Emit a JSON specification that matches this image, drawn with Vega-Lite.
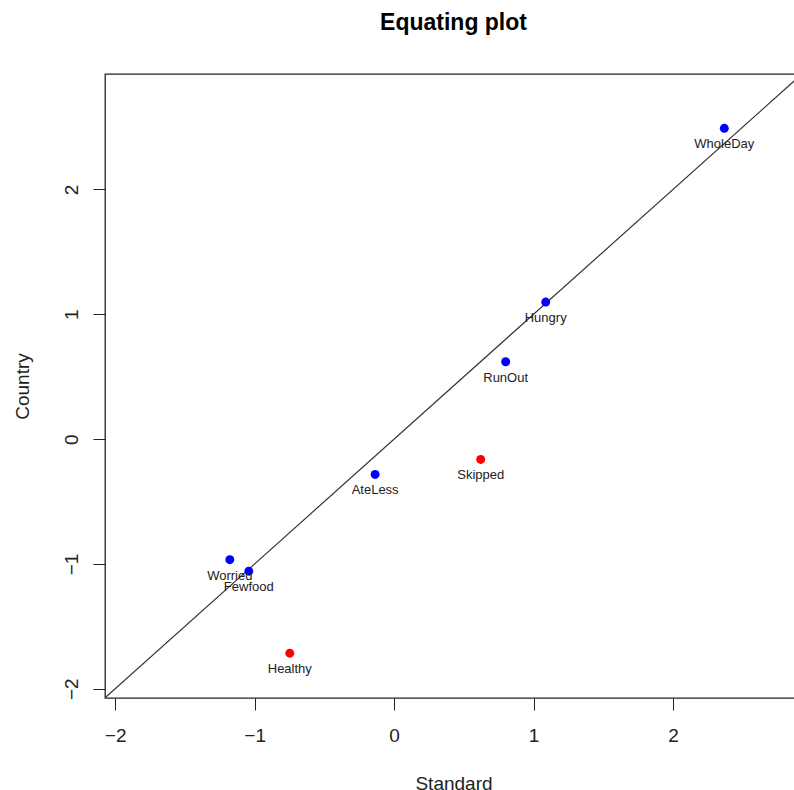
{
  "$schema": "https://vega.github.io/schema/vega-lite/v6.json",
  "autosize": {"type": "none"},
  "padding": {"left": 105, "top": 74, "right": 0, "bottom": 95},
  "width": 697,
  "height": 624,
  "background": "white",
  "config": {
    "view": {"stroke": "#222", "strokeWidth": 1.3},
    "font": "Liberation Sans"
  },
  "title": {
    "text": "Equating plot",
    "fontSize": 23,
    "fontWeight": "bold",
    "font": "Liberation Sans",
    "color": "black",
    "anchor": "middle",
    "baseline": "alphabetic",
    "offset": 21
  },
  "datasets": {
    "pts": [
      {"item": "WholeDay", "Standard": 2.368, "Country": 2.49, "group": "anchor"},
      {"item": "Hungry", "Standard": 1.087, "Country": 1.098, "group": "anchor"},
      {"item": "RunOut", "Standard": 0.8, "Country": 0.62, "group": "anchor"},
      {"item": "Skipped", "Standard": 0.621, "Country": -0.163, "group": "drift"},
      {"item": "AteLess", "Standard": -0.136, "Country": -0.283, "group": "anchor"},
      {"item": "Worried", "Standard": -1.178, "Country": -0.966, "group": "anchor"},
      {"item": "Fewfood", "Standard": -1.042, "Country": -1.058, "group": "anchor"},
      {"item": "Healthy", "Standard": -0.748, "Country": -1.715, "group": "drift"}
    ],
    "ident": [
      {"Standard": -3, "Country": -3},
      {"Standard": 4, "Country": 4}
    ]
  },
  "layer": [
    {
      "data": {"name": "ident"},
      "mark": {"type": "line", "clip": true, "color": "#333", "strokeWidth": 1.2},
      "encoding": {
        "x": {"field": "Standard", "type": "quantitative"},
        "y": {"field": "Country", "type": "quantitative"}
      }
    },
    {
      "data": {"name": "pts"},
      "mark": {"type": "point", "filled": true, "opacity": 1, "size": 80},
      "encoding": {
        "x": {"field": "Standard", "type": "quantitative"},
        "y": {"field": "Country", "type": "quantitative"},
        "color": {
          "field": "group",
          "type": "nominal",
          "scale": {"domain": ["anchor", "drift"], "range": ["#0000FF", "#FF0000"]},
          "legend": null
        }
      }
    },
    {
      "data": {"name": "pts"},
      "mark": {"type": "text", "dy": 16, "fontSize": 13, "color": "#222", "font": "Liberation Sans"},
      "encoding": {
        "x": {"field": "Standard", "type": "quantitative"},
        "y": {"field": "Country", "type": "quantitative"},
        "text": {"field": "item"}
      }
    }
  ],
  "resolve": {"scale": {"x": "shared", "y": "shared"}},
  "encoding": {
    "x": {
      "field": "Standard",
      "type": "quantitative",
      "scale": {"domain": [-2.073, 2.925], "nice": false, "zero": false},
      "axis": {
        "title": "Standard",
        "values": [-2, -1, 0, 1, 2],
        "grid": false,
        "domain": false,
        "tickSize": 12,
        "tickColor": "#222",
        "labelFontSize": 19,
        "labelColor": "#222",
        "labelBaseline": "middle",
        "labelPadding": 25,
        "labelFlush": false,
        "labelOverlap": false,
        "format": "d",
        "titleFontSize": 19,
        "titleFontWeight": "normal",
        "titleColor": "#222",
        "titleBaseline": "middle",
        "titleY": 85
      }
    },
    "y": {
      "field": "Country",
      "type": "quantitative",
      "scale": {"domain": [-2.074, 2.925], "nice": false, "zero": false},
      "axis": {
        "title": "Country",
        "values": [-2, -1, 0, 1, 2],
        "grid": false,
        "domain": false,
        "tickSize": 12,
        "tickColor": "#222",
        "labelFontSize": 19,
        "labelColor": "#222",
        "labelAngle": 270,
        "labelAlign": "center",
        "labelBaseline": "middle",
        "labelPadding": 22,
        "labelFlush": false,
        "labelOverlap": false,
        "format": "d",
        "titleFontSize": 19,
        "titleFontWeight": "normal",
        "titleColor": "#222",
        "titleBaseline": "middle",
        "titleX": -83
      }
    }
  }
}
